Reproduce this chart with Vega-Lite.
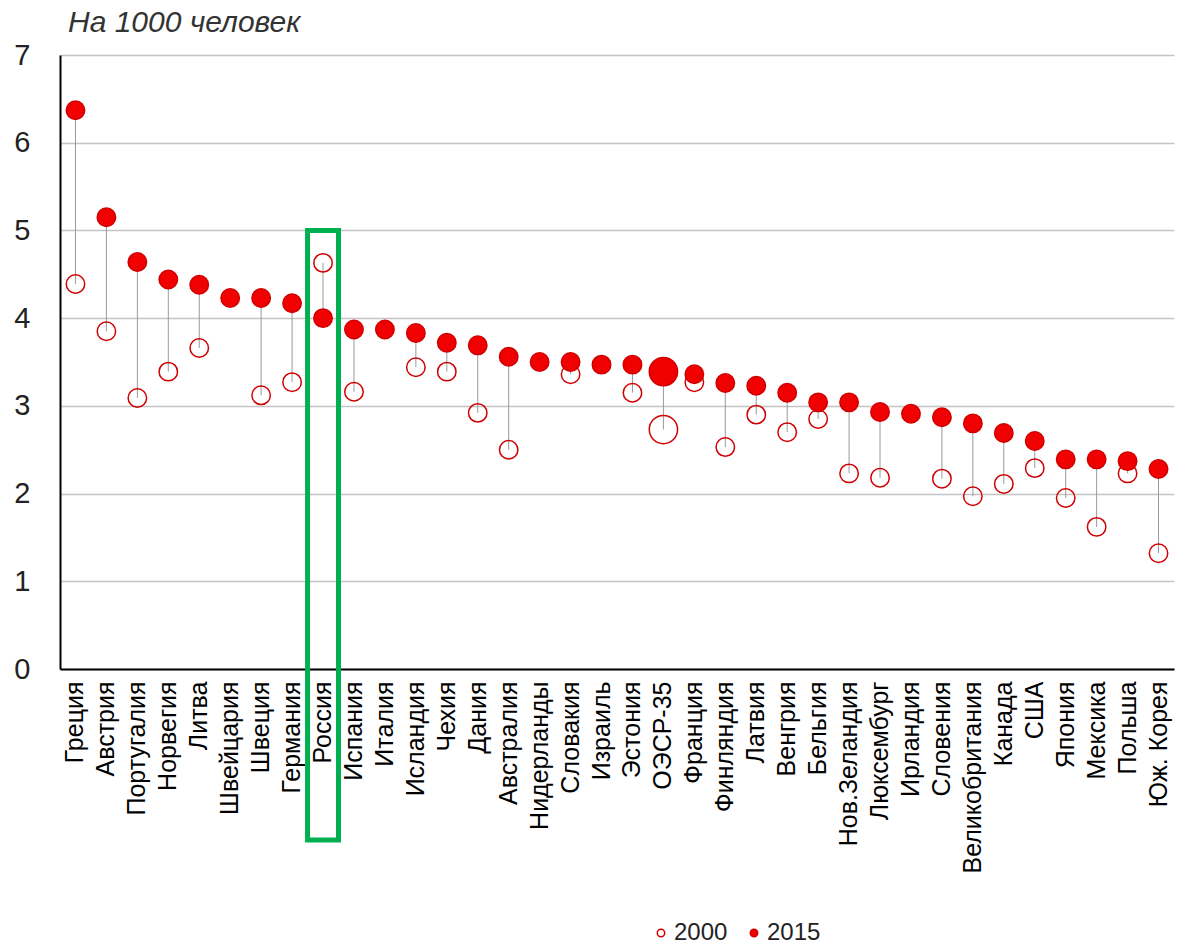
{
  "$schema": "https://vega.github.io/schema/vega-lite/v6.json",
  "autosize": {"type": "none"},
  "padding": {"left": 60, "top": 55, "right": 4, "bottom": 277},
  "width": 1114,
  "height": 614,
  "background": "white",
  "title": {
    "text": "На 1000 человек",
    "anchor": "start",
    "frame": "group",
    "dx": 8,
    "offset": 3,
    "font": "Liberation Sans",
    "fontSize": 30,
    "fontStyle": "italic",
    "fontWeight": "normal",
    "color": "#333333"
  },
  "config": {
    "view": {"stroke": null},
    "font": "Liberation Sans"
  },
  "data": {
    "values": [
      {"country": "Греция", "2000": 4.39, "2015": 6.37},
      {"country": "Австрия", "2000": 3.85, "2015": 5.15},
      {"country": "Португалия", "2000": 3.09, "2015": 4.64},
      {"country": "Норвегия", "2000": 3.39, "2015": 4.44},
      {"country": "Литва", "2000": 3.66, "2015": 4.38},
      {"country": "Швейцария", "2000": null, "2015": 4.23},
      {"country": "Швеция", "2000": 3.12, "2015": 4.23},
      {"country": "Германия", "2000": 3.27, "2015": 4.17},
      {"country": "Россия", "2000": 4.63, "2015": 4.0},
      {"country": "Испания", "2000": 3.16, "2015": 3.87},
      {"country": "Италия", "2000": null, "2015": 3.87},
      {"country": "Исландия", "2000": 3.44, "2015": 3.83},
      {"country": "Чехия", "2000": 3.39, "2015": 3.72},
      {"country": "Дания", "2000": 2.92, "2015": 3.69},
      {"country": "Австралия", "2000": 2.5, "2015": 3.56},
      {"country": "Нидерланды", "2000": null, "2015": 3.5},
      {"country": "Словакия", "2000": 3.36, "2015": 3.5},
      {"country": "Израиль", "2000": null, "2015": 3.47},
      {"country": "Эстония", "2000": 3.15, "2015": 3.47},
      {"country": "ОЭСР-35", "2000": 2.73, "2015": 3.39},
      {"country": "Франция", "2000": 3.27, "2015": 3.36},
      {"country": "Финляндия", "2000": 2.53, "2015": 3.26},
      {"country": "Латвия", "2000": 2.9, "2015": 3.23},
      {"country": "Венгрия", "2000": 2.7, "2015": 3.15},
      {"country": "Бельгия", "2000": 2.85, "2015": 3.04},
      {"country": "Нов.Зеландия", "2000": 2.23, "2015": 3.04},
      {"country": "Люксембург", "2000": 2.18, "2015": 2.93},
      {"country": "Ирландия", "2000": null, "2015": 2.91},
      {"country": "Словения", "2000": 2.17, "2015": 2.87},
      {"country": "Великобритания", "2000": 1.97, "2015": 2.8},
      {"country": "Канада", "2000": 2.11, "2015": 2.69},
      {"country": "США", "2000": 2.29, "2015": 2.6},
      {"country": "Япония", "2000": 1.95, "2015": 2.39},
      {"country": "Мексика", "2000": 1.62, "2015": 2.39},
      {"country": "Польша", "2000": 2.23, "2015": 2.37},
      {"country": "Юж. Корея", "2000": 1.32, "2015": 2.28}
    ]
  },
  "encoding": {
    "x": {
      "field": "country",
      "type": "nominal",
      "sort": null,
      "scale": {
        "domain": ["Греция", "Австрия", "Португалия", "Норвегия", "Литва", "Швейцария", "Швеция", "Германия", "Россия", "Испания", "Италия", "Исландия", "Чехия", "Дания", "Австралия", "Нидерланды", "Словакия", "Израиль", "Эстония", "ОЭСР-35", "Франция", "Финляндия", "Латвия", "Венгрия", "Бельгия", "Нов.Зеландия", "Люксембург", "Ирландия", "Словения", "Великобритания", "Канада", "США", "Япония", "Мексика", "Польша", "Юж. Корея"],
        "paddingInner": 0,
        "paddingOuter": 0
      },
      "axis": {
        "title": null,
        "labelAngle": -90,
        "labelAlign": "right",
        "labelBaseline": "middle",
        "labelFontSize": 25,
        "labelColor": "#000000",
        "labelPadding": 12,
        "ticks": false,
        "domainColor": "#000000",
        "domainWidth": 2,
        "labelOverlap": false,
        "labelLimit": 300
      }
    }
  },
  "layer": [
    {
      "mark": {"type": "rule", "color": "#9a9a9a", "strokeWidth": 1},
      "transform": [{"filter": "isValid(datum['2000'])"}],
      "encoding": {
        "y": {
          "field": "2000",
          "type": "quantitative",
          "scale": {"domain": [0, 7], "nice": false},
          "axis": {
            "title": null,
            "tickCount": 7,
            "ticks": false,
            "labelFontSize": 29,
            "labelColor": "#222222",
            "labelPadding": 30,
            "domainColor": "#000000",
            "domainWidth": 2,
            "gridColor": "#c4c4c4",
            "gridWidth": 1.5
          }
        },
        "y2": {"field": "2015"}
      }
    },
    {
      "transform": [
        {"filter": "datum.country !== 'ОЭСР-35'"},
        {"fold": ["2000", "2015"], "as": ["year", "value"]},
        {"filter": "isValid(datum.value)"}
      ],
      "mark": {"type": "point", "filled": true, "stroke": "#d00000", "strokeWidth": 1.5, "opacity": 1, "size": 340},
      "encoding": {
        "y": {"field": "value", "type": "quantitative"},
        "fill": {
          "field": "year",
          "type": "nominal",
          "scale": {"domain": ["2000", "2015"], "range": ["transparent", "#f00000"]},
          "legend": {
            "title": null,
            "orient": "none",
            "direction": "horizontal",
            "legendX": 589,
            "legendY": 866,
            "symbolSize": 55,
            "symbolStrokeColor": "#d00000",
            "symbolStrokeWidth": 1.5,
            "labelFontSize": 24,
            "labelColor": "#222222",
            "labelOffset": 1,
            "columnPadding": 14
          }
        }
      }
    },
    {
      "transform": [
        {"filter": "datum.country === 'ОЭСР-35'"},
        {"fold": ["2000", "2015"], "as": ["year", "value"]}
      ],
      "mark": {"type": "point", "filled": true, "stroke": "#d00000", "strokeWidth": 1.5, "opacity": 1, "size": 800},
      "encoding": {
        "y": {"field": "value", "type": "quantitative"},
        "fill": {"field": "year", "type": "nominal", "legend": null}
      }
    },
    {
      "transform": [{"filter": "datum.country === 'Россия'"}],
      "mark": {"type": "rect", "fill": null, "stroke": "#00b050", "strokeWidth": 5, "clip": false},
      "encoding": {
        "y": {"datum": 5.0},
        "y2": {"datum": -1.95}
      }
    }
  ]
}
